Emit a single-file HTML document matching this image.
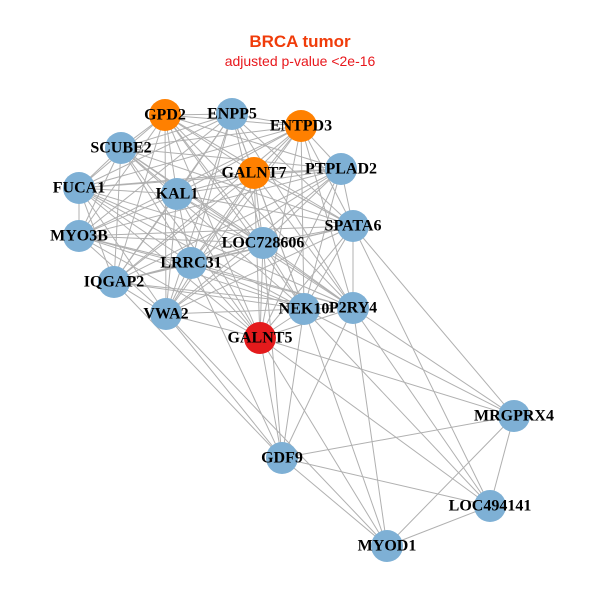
<!DOCTYPE html>
<html><head><meta charset="utf-8"><style>
html,body{margin:0;padding:0;background:#fff;width:600px;height:600px;overflow:hidden}
svg text.l{font-family:"Liberation Serif",serif;font-weight:bold;font-size:16px;fill:#000;text-anchor:middle;dominant-baseline:central}
</style></head><body>
<svg id="s" width="600" height="600" xmlns="http://www.w3.org/2000/svg">
<text x="300" y="47" font-family="Liberation Sans,sans-serif" font-weight="bold" font-size="17" fill="#f03c0a" text-anchor="middle">BRCA tumor</text>
<text x="300" y="66" font-family="Liberation Sans,sans-serif" font-size="14" fill="#e8171c" text-anchor="middle">adjusted p-value &lt;2e-16</text>
<g id="e" stroke="#b0b0b0" stroke-width="1"></g>
<g id="n"></g>
</svg>
<script>
var N={GPD2:[165,115,'#ff8000'],ENPP5:[232,114],ENTPD3:[301,126,'#ff8000'],SCUBE2:[121,148],GALNT7:[254,173,'#ff8000'],PTPLAD2:[341,169],FUCA1:[79,188],KAL1:[177,194],SPATA6:[353,226],MYO3B:[79,236],LOC728606:[263,243],LRRC31:[191,263],IQGAP2:[114,282],NEK10:[304,309],P2RY4:[353,308],VWA2:[166,314],GALNT5:[260,338,'#e41a1c'],MRGPRX4:[514,416],GDF9:[282,458],LOC494141:[490,506],MYOD1:[387,546]};
var C=['GPD2','ENPP5','ENTPD3','SCUBE2','GALNT7','PTPLAD2','FUCA1','KAL1','SPATA6','MYO3B','LOC728606','LRRC31','IQGAP2','NEK10','P2RY4','VWA2','GALNT5'];
var E=[];
for(var i=0;i<C.length;i++)for(var j=i+1;j<C.length;j++){if((i*7+j*3)%11!=0)E.push([C[i],C[j]]);}
E=E.concat([['GDF9','VWA2'],['GDF9','IQGAP2'],['GDF9','GALNT5'],['GDF9','NEK10'],['GDF9','P2RY4'],['GDF9','MRGPRX4'],['GDF9','LOC494141'],['GDF9','MYOD1'],['GDF9','LRRC31'],['GDF9','LOC728606'],
['MYOD1','GALNT5'],['MYOD1','NEK10'],['MYOD1','P2RY4'],['MYOD1','MRGPRX4'],['MYOD1','LOC494141'],['MYOD1','VWA2'],
['LOC494141','GALNT5'],['LOC494141','NEK10'],['LOC494141','P2RY4'],['LOC494141','MRGPRX4'],['LOC494141','SPATA6'],
['MRGPRX4','GALNT5'],['MRGPRX4','NEK10'],['MRGPRX4','P2RY4'],['MRGPRX4','SPATA6']]);
var ns='http://www.w3.org/2000/svg',eg=document.getElementById('e'),ng=document.getElementById('n');
E.forEach(function(p){var a=N[p[0]],b=N[p[1]],l=document.createElementNS(ns,'line');l.setAttribute('x1',a[0]);l.setAttribute('y1',a[1]);l.setAttribute('x2',b[0]);l.setAttribute('y2',b[1]);eg.appendChild(l);});
for(var k in N){var v=N[k],c=document.createElementNS(ns,'circle');c.setAttribute('cx',v[0]);c.setAttribute('cy',v[1]);c.setAttribute('r',16);c.setAttribute('fill',v[2]||'#7eb0d5');ng.appendChild(c);}
for(var k in N){var v=N[k],t=document.createElementNS(ns,'text');t.setAttribute('class','l');t.setAttribute('x',v[0]);t.setAttribute('y',v[1]);t.textContent=k;ng.appendChild(t);}
</script>
</body></html>
